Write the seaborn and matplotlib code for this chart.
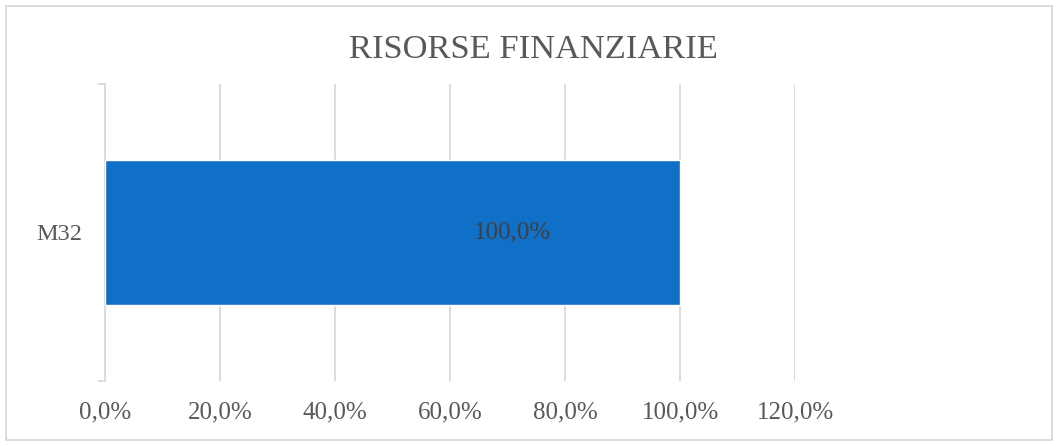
import matplotlib
matplotlib.use("Agg")
import numpy as np
import pandas as pd
import seaborn as sns
import matplotlib.pyplot as plt
from matplotlib.patches import Rectangle
from matplotlib.ticker import FuncFormatter

# chart data
categories = ["M32"]
values = [1.0]
label_texts = ["100,0%"]
x_ticks = [0.0, 0.2, 0.4, 0.6, 0.8, 1.0, 1.2]

df = pd.DataFrame({"cat": categories, "val": values})

sns.set_style("white")
plt.rcParams['font.family'] = ['Liberation Serif', 'DejaVu Serif']

fig = plt.figure(figsize=(10.58, 4.46), dpi=100)
ax = fig.add_axes([105 / 1058, 65 / 446, 690 / 1058, 297 / 446])

sns.barplot(data=df, x="val", y="cat", orient="h", color="#106FC6",
            saturation=1, width=0.49, ax=ax, zorder=3)

ax.set_xlim(0, 1.2)
ax.set_ylim(0.5, -0.5)
ax.set_xticks(x_ticks)
ax.xaxis.set_major_formatter(FuncFormatter(lambda v, p: f"{v*100:.1f}%".replace(".", ",")))
ax.grid(axis="x", color="#d9d9d9", linewidth=1.3, zorder=0)
ax.tick_params(axis="x", length=0, pad=15, labelsize=18, labelcolor="#595959")
ax.tick_params(axis="y", which="major", left=True, length=0, pad=16, labelsize=17.5,
               labelcolor="#595959")
ax.set_yticks([-0.5, 0.5], minor=True)
ax.tick_params(axis="y", which="minor", left=True, length=5, width=1.3, color="#d9d9d9")
ax.set_xlabel("")
ax.set_ylabel("")

for side in ["top", "right", "bottom"]:
    ax.spines[side].set_visible(False)
ax.spines["left"].set_color("#d9d9d9")
ax.spines["left"].set_linewidth(1.3)

for i, (v, t) in enumerate(zip(values, label_texts)):
    ax.text(v * 0.708, i, t, ha="center", va="center", fontsize=18, color="#404040", zorder=4)

fig.text(533 / 1058, 1 - 50 / 446, "RISORSE FINANZIARIE", ha="center", va="center",
         fontsize=24.8, color="#595959")

fig.patches.append(Rectangle((6 / 1058, 6 / 446), 1046 / 1058, 434 / 446,
                             transform=fig.transFigure, fill=False,
                             edgecolor="#d9d9d9", linewidth=1.3))

fig.savefig("out.png", dpi=100)
